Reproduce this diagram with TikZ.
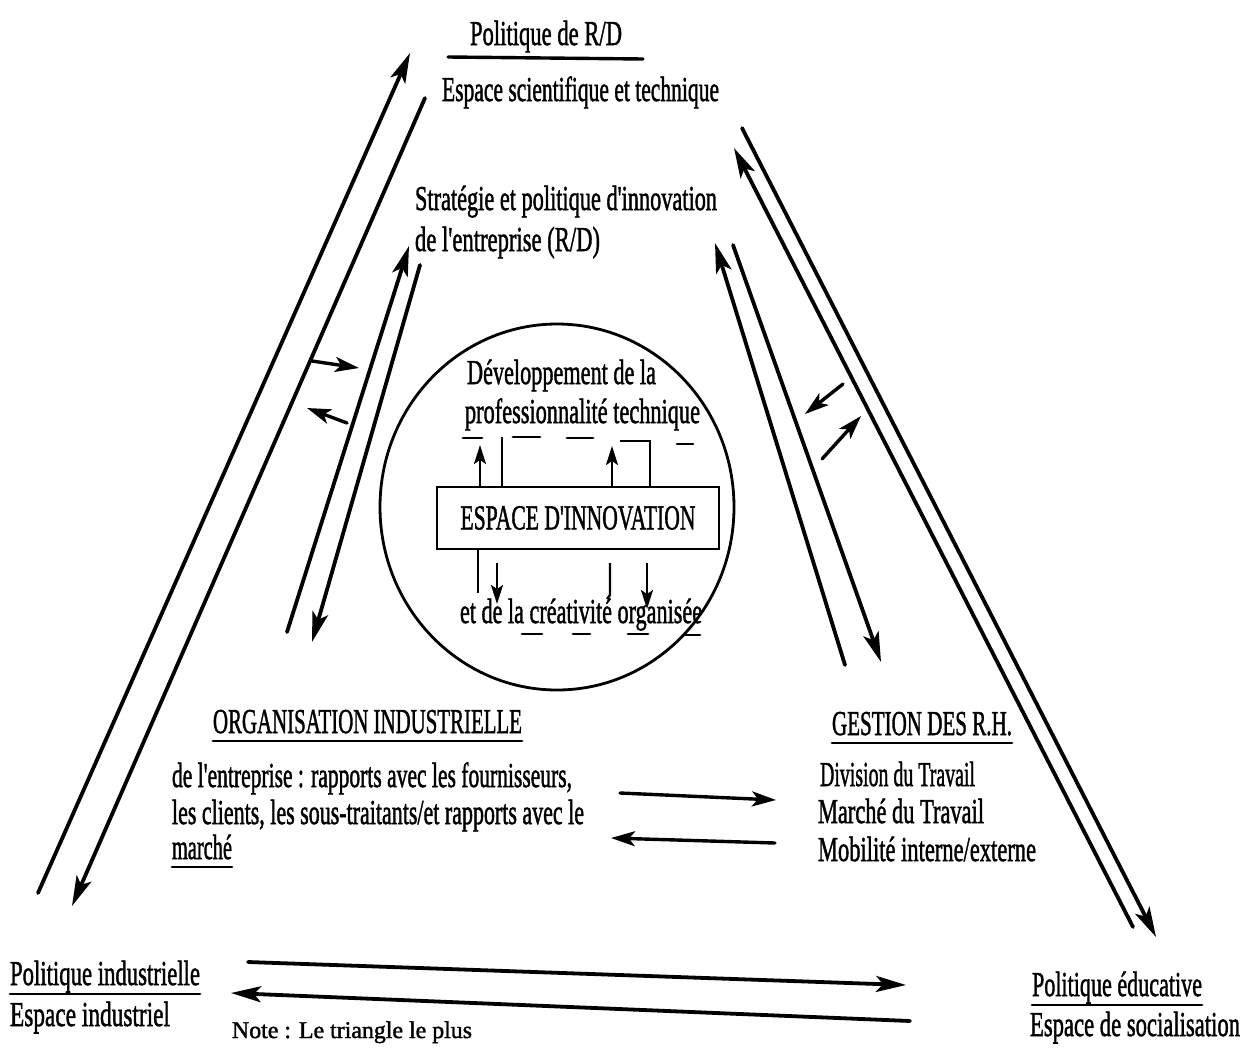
\documentclass[tikz,border=0pt]{standalone}
\usepackage{fontspec}
\setmainfont{Liberation Serif}
\newfontfamily\dfont{Liberation Serif}[FakeBold=1.6]
\usepackage{graphicx}
\usetikzlibrary{arrows.meta,shapes.geometric}
\newcommand{\tw}[2]{\resizebox{#1pt}{\height}{#2}}
\begin{document}
\begin{tikzpicture}[x=1pt,y=-1pt,
  lbl/.style={inner sep=0pt, outer sep=0pt, anchor=base west, font=\dfont\fontsize{35}{40}\selectfont},
  notelbl/.style={lbl, font=\dfont\fontsize{24}{28}\selectfont},
  ln/.style={line width=3.8pt, line cap=round},
  uline/.style={line width=2.8pt, line cap=round},
  arr/.style={ln, -{Stealth[length=30pt,width=16pt,inset=7pt]}},
  sarr/.style={line width=3.4pt, line cap=round, -{Stealth[length=24pt,width=15pt,inset=6pt]}},
  thin/.style={line width=2.4pt},
  tarr/.style={line width=2.4pt, -{Stealth[length=19pt,width=12pt,inset=4pt]}},
]
\useasboundingbox[fill=white] (0,0) rectangle (1244,1047);

% ---------- texts ----------
\node[lbl] (rd) at (470,45) {\tw{152}{Politique de R/D}};
\draw[uline, line width=3.4pt] (448,57) -- (643,59);
\node[lbl] (esc) at (442,101) {\tw{277}{Espace scientifique et technique}};
\node[lbl] (strat1) at (415,210) {\tw{302}{Stratégie et politique d'innovation}};
\node[lbl] (strat2) at (415,251) {\tw{185}{de l'entreprise (R/D)}};

\node[lbl] (org) at (213,733) {\tw{309}{ORGANISATION INDUSTRIELLE}};
\draw[uline] ([yshift=-8pt]org.base west) -- ([yshift=-8pt]org.base east);
\node[lbl] (org1) at (172,787) {\tw{400}{de l'entreprise : rapports avec les fournisseurs,}};
\node[lbl] (org2) at (172,824) {\tw{412}{les clients, les sous-traitants/et rapports avec le}};
\node[lbl] (org3) at (172,859) {\tw{60}{marché}};
\draw[uline] ([yshift=-8pt]org3.base west) -- ([yshift=-8pt]org3.base east);

\node[lbl] (grh) at (832,735) {\tw{180}{GESTION DES R.H.}};
\draw[uline] ([yshift=-8pt]grh.base west) -- ([yshift=-8pt]grh.base east);
\node[lbl] (grh1) at (820,786) {\tw{155}{Division du Travail}};
\node[lbl] (grh2) at (818,823) {\tw{166}{Marché du Travail}};
\node[lbl] (grh3) at (818,861) {\tw{218}{Mobilité interne/externe}};

\node[lbl] (pind) at (10,985) {\tw{190}{Politique industrielle}};
\draw[uline] ([yshift=-9pt]pind.base west) -- ([yshift=-9pt]pind.base east);
\node[lbl] (eind) at (10,1026) {\tw{160}{Espace industriel}};

\node[lbl] (pedu) at (1032,996) {\tw{170}{Politique éducative}};
\draw[uline] ([yshift=-9pt]pedu.base west) -- ([yshift=-9pt]pedu.base east);
\node[lbl] (esoc) at (1030,1036) {\tw{210}{Espace de socialisation}};

\node[notelbl] (note) at (232,1038) {\tw{240}{Note : Le triangle le plus}};

% ---------- central circle ----------
\node[draw, ellipse, line width=2.8pt, minimum width=354pt, minimum height=366pt] (circ) at (557,507) {};
\node[lbl] (dev1) at (467,384) {\tw{189}{Développement de la}};
\node[lbl] (dev2) at (465,423) {\tw{235}{professionnalité technique}};
\node[draw, line width=2.8pt, minimum width=282pt, minimum height=62pt, inner sep=0pt, font=\dfont\fontsize{35}{40}\selectfont] (box) at (578,518) {\tw{235}{ESPACE D'INNOVATION}};
\node[lbl] (crea) at (460,623) {\tw{242}{et de la créativité organisée}};

% dashed underline of the upper text
\draw[uline] (463,438) -- (482,438);
\draw[uline] (513,437) -- (540,437);
\draw[uline] (567,438) -- (593,438);
\draw[uline] (677,444) -- (693,444);
\coordinate (ua1) at (480,486); \coordinate (ua1t) at (480,445);
\draw[tarr] (ua1) -- (ua1t);
\coordinate (ul1) at (502,487); \coordinate (ul1t) at (502,437);
\draw[thin] (ul1) -- (ul1t);
\coordinate (ua2) at (612,486); \coordinate (ua2t) at (612,446);
\draw[tarr] (ua2) -- (ua2t);
\coordinate (ul2) at (650,488); \coordinate (ul2c) at (650,441); \coordinate (ul2e) at (620,441);
\draw[thin] (ul2) -- (ul2c) -- (ul2e);

% lower connectors
\coordinate (dl1) at (478,550); \coordinate (dl1b) at (478,593);
\draw[thin] (dl1) -- (dl1b);
\coordinate (da1) at (497,563); \coordinate (da1b) at (497,604);
\draw[tarr] (da1) -- (da1b);
\coordinate (dl2) at (610,563); \coordinate (dl2b) at (610,595); \coordinate (dl2c) at (607,599);
\draw[thin] (dl2) -- (dl2b) -- (dl2c);
\coordinate (da2) at (647,563); \coordinate (da2b) at (647,609);
\draw[tarr] (da2) -- (da2b);
% dashed underline of the lower text
\draw[uline] (522,634) -- (542,634);
\draw[uline] (573,634) -- (590,634);
\draw[uline] (628,634) -- (648,634);
\draw[uline] (683,635) -- (700,635);

% ---------- left connectors ----------
\coordinate (L1b) at (38,893);  \coordinate (L1t) at (410,53);
\draw[arr] (L1b) -- (L1t);
\coordinate (L2t) at (425,98);  \coordinate (L2b) at (72,906);
\draw[arr] (L2t) -- (L2b);
\coordinate (L3b) at (287,632); \coordinate (L3t) at (409,246);
\draw[arr] (L3b) -- (L3t);
\coordinate (L4t) at (420,265); \coordinate (L4b) at (312,642);
\draw[arr] (L4t) -- (L4b);
\coordinate (LS1a) at (312,361); \coordinate (LS1b) at (359,368);
\draw[sarr] (LS1a) -- (LS1b);
\coordinate (LS2a) at (347,423); \coordinate (LS2b) at (307,408);
\draw[sarr] (LS2a) -- (LS2b);

% ---------- right connectors ----------
\coordinate (R1b) at (1133,927); \coordinate (R1t) at (734,148);
\draw[arr] (R1b) -- (R1t);
\coordinate (R2t) at (742,128);  \coordinate (R2b) at (1156,937);
\draw[arr] (R2t) -- (R2b);
\coordinate (R3b) at (845,665);  \coordinate (R3t) at (715,243);
\draw[arr] (R3b) -- (R3t);
\coordinate (R4t) at (733,245);  \coordinate (R4b) at (881,662);
\draw[arr] (R4t) -- (R4b);
\coordinate (RS1a) at (843,384); \coordinate (RS1b) at (805,414);
\draw[sarr] (RS1a) -- (RS1b);
\coordinate (RS2a) at (822,459); \coordinate (RS2b) at (861,416);
\draw[sarr] (RS2a) -- (RS2b);

% ---------- horizontal connectors ----------
\coordinate (M1a) at (620,793); \coordinate (M1b) at (776,800);
\draw[sarr] (M1a) -- (M1b);
\coordinate (M2a) at (775,843); \coordinate (M2b) at (611,838);
\draw[sarr] (M2a) -- (M2b);
\coordinate (B1a) at (248,962); \coordinate (B1b) at (906,985);
\draw[arr] (B1a) -- (B1b);
\coordinate (B2a) at (910,1021); \coordinate (B2b) at (231,993);
\draw[arr] (B2a) -- (B2b);
\end{tikzpicture}
\end{document}
